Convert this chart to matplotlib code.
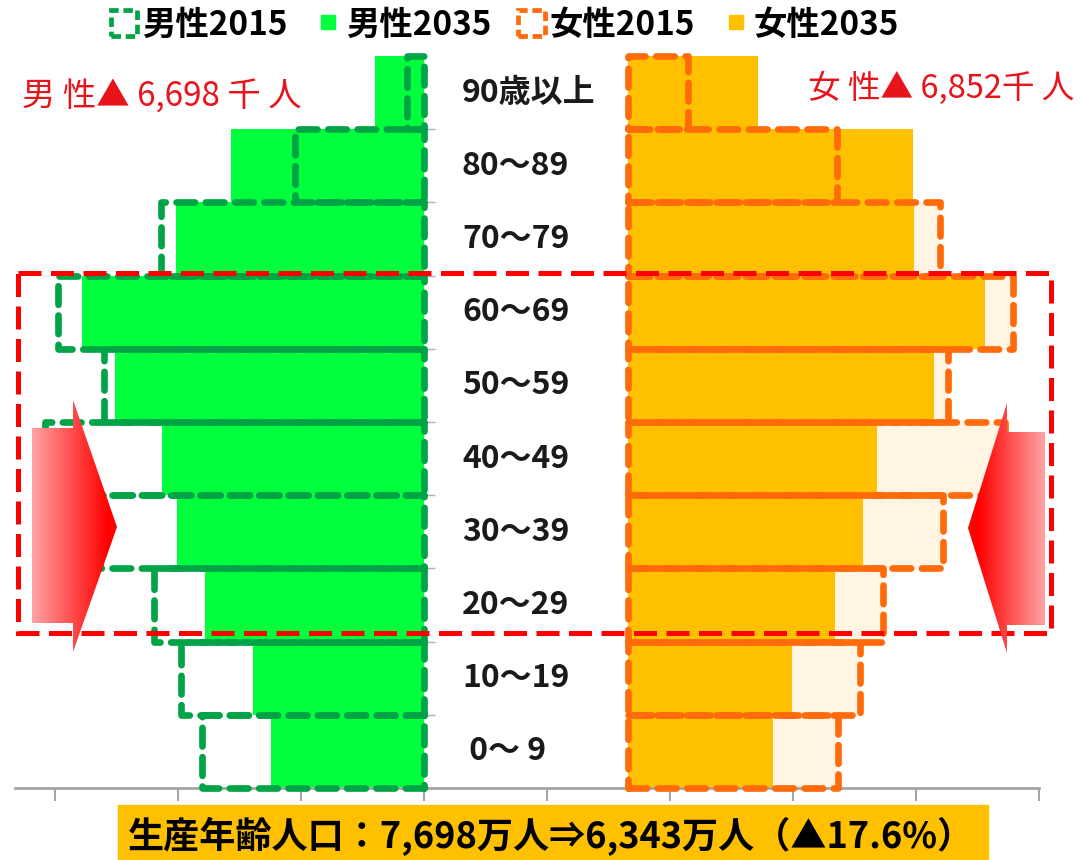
import numpy as np
import matplotlib
matplotlib.use('Agg')
import matplotlib.pyplot as plt
from matplotlib.patches import Patch, Rectangle, Polygon
from matplotlib.lines import Line2D

plt.rcParams['font.family'] = ['Noto Sans CJK JP', 'DejaVu Sans']

# age groups, bottom to top; population in thousand people
ages = [' 0～ 9', '10～19', '20～29', '30～39', '40～49',
        '50～59', '60～69', '70～79', '80～89', '90歳以上']
male_2015 = [5420, 5930, 6590, 7900, 9240, 7800, 8930, 6410, 3150, 410]
male_2035 = [3730, 4170, 5340, 6020, 6390, 7540, 8340, 6050, 4710, 1200]
female_2015 = [5120, 5660, 6220, 7680, 9200, 7800, 9390, 7610, 5100, 1460]
female_2035 = [3540, 4000, 5050, 5730, 6070, 7460, 8710, 6980, 6950, 3170]

legend_labels = ['男性2015', '男性2035', '女性2015', '女性2035']
male_note = '男 性▲ 6,698 千 人'
female_note = '女 性▲ 6,852千 人'
footer = '生産年齢人口：7,698万人⇒6,343万人（▲17.6%）'

# colours
GREEN_EDGE = '#00A346'
GREEN_FILL = '#00FF3C'
ORANGE_EDGE = '#FF6A0A'
ORANGE_FILL = '#FFC000'
PALE = '#FFF5E2'
RED = '#FF0000'

W, H = 1082, 860
K = 0.041        # pixels per thousand people
X0 = 424         # male zero line (px)
FEMALE_X0 = 628  # female zero line (px)
ROW = 73.2       # row height (px)
Y0 = 788         # baseline (px)

fig = plt.figure(figsize=(W / 100, H / 100), dpi=100)
ax = fig.add_axes([0, 0, 1, 1])
ax.set_xlim(-X0 / K, (W - X0) / K)
ax.set_ylim(-(H - Y0) / ROW, Y0 / ROW)

female_base = (FEMALE_X0 - X0) / K
y = np.arange(len(ages)) + 0.5
m15 = -np.array(male_2015)
m35 = -np.array(male_2035)

dash = (0, (2.8, 1.6))
# 2015 female pale fill behind
ax.barh(y, female_2015, left=female_base, height=1, color=PALE, zorder=1)
# 2035 solid bars
ax.barh(y, m35, height=1, color=GREEN_FILL, zorder=2)
ax.barh(y, female_2035, left=female_base, height=1, color=ORANGE_FILL, zorder=2)
# 2015 dashed outlines on top
ax.barh(y, m15, height=1, fill=False, edgecolor=GREEN_EDGE, lw=4.8,
        linestyle=dash, capstyle='round', joinstyle='round', zorder=3)
ax.barh(y, female_2015, left=female_base, height=1, fill=False,
        edgecolor=ORANGE_EDGE, lw=4.8, linestyle=dash, capstyle='round',
        joinstyle='round', zorder=3)

# small category ticks beside the male axis
ax.hlines(np.arange(1, len(ages)), 0, 11 / K, color='#B0B0B0', lw=1, zorder=1)

# bottom axis
for s in ['top', 'left', 'right']:
    ax.spines[s].set_visible(False)
ax.spines['bottom'].set_position(('data', 0))
ax.spines['bottom'].set_bounds((15 - X0) / K, 15000)
ax.spines['bottom'].set_color('#A6A6A6')
ax.spines['bottom'].set_linewidth(2)
ax.set_xticks(np.arange(-9000, 15001, 3000))
ax.set_yticks([])
ax.tick_params(axis='x', length=9, width=1.5, color='#A6A6A6',
               direction='out', labelbottom=False)

# age labels in the middle
for yi, lab in zip(y, ages):
    ax.text((462 - X0) / K, yi, lab, ha='left', va='center',
            fontsize=23, fontweight='bold', color='#1A1A1A')

# legend
handles = [
    Patch(facecolor='white', edgecolor=GREEN_EDGE, lw=3.4, linestyle=(0, (2, 1))),
    Line2D([], [], ls='none', marker='s', ms=10, mfc=GREEN_FILL, mec=GREEN_FILL),
    Patch(facecolor='white', edgecolor=ORANGE_EDGE, lw=3.4, linestyle=(0, (2, 1))),
    Line2D([], [], ls='none', marker='s', ms=10, mfc=ORANGE_FILL, mec=ORANGE_FILL),
]
fig.legend(handles, legend_labels, ncol=4, loc='center',
           bbox_to_anchor=(505 / W, 1 - 25 / H), frameon=False,
           prop={'size': 24, 'weight': 'bold'}, handlelength=0.8,
           handleheight=0.8, handletextpad=0.15, columnspacing=0.8,
           borderpad=0, borderaxespad=0)

# overlay in pixel coordinates for the annotations
deco = fig.add_axes([0, 0, 1, 1], zorder=5)
deco.axis('off')
deco.patch.set_visible(False)

deco.add_patch(Rectangle((18, 273), 1051 - 18, 633 - 273, fill=False,
                         edgecolor=RED, lw=3.6, linestyle=(0, (4.6, 1.9))))


def gradient_arrow(pts, x_light, x_dark):
    poly = Polygon(pts, closed=True, facecolor='none', edgecolor='none')
    deco.add_patch(poly)
    xs = [p[0] for p in pts]
    ys = [p[1] for p in pts]
    grid = np.linspace(min(xs), max(xs), 256)
    t = np.clip((grid - x_light) / (x_dark - x_light), 0, 1)
    rgb = np.ones((1, 256, 3))
    rgb[0, :, 1] = 0.64 * (1 - t)
    rgb[0, :, 2] = 0.64 * (1 - t)
    im = deco.imshow(rgb, extent=(min(xs), max(xs), max(ys), min(ys)),
                     aspect='auto', interpolation='bilinear', zorder=6)
    im.set_clip_path(poly)


gradient_arrow([(32, 428), (73, 428), (73, 400), (117, 527),
                (73, 652), (73, 623), (32, 623)], 32, 108)
gradient_arrow([(1045, 432), (1007, 432), (1007, 403), (968, 528),
                (1007, 653), (1007, 625), (1045, 625)], 1045, 978)

# red notes
deco.text(22, 97, male_note, ha='left', va='center', fontsize=24, color='#E8141C')
deco.text(808, 88, female_note, ha='left', va='center', fontsize=23.5, color='#E8141C')

# footer label
deco.add_patch(Rectangle((118, 805), 988 - 118, 70, color=ORANGE_FILL, zorder=7))
deco.text(551, 836, footer, ha='center', va='center', fontsize=26,
          fontweight='bold', color='black', zorder=8)

deco.set_xlim(0, W)
deco.set_ylim(H, 0)

fig.savefig('out.png', dpi=100)
